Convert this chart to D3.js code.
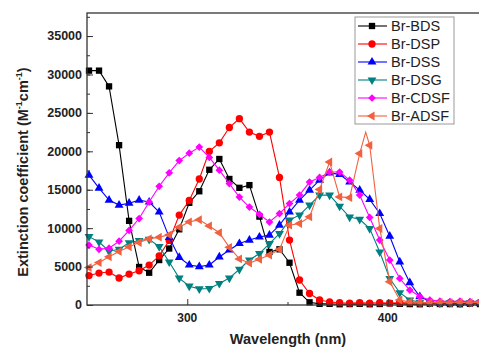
<!DOCTYPE html>
<html>
<head>
<meta charset="utf-8">
<script src="https://cdn.jsdelivr.net/npm/d3@7"></script>
<style>
  body { margin: 0; background: #fff; }
  svg { display: block; font-family: "Liberation Sans", Arial, sans-serif; }
</style>
</head>
<body>
<div id="chart"></div>
<script>
// wavelengths of the plotted points (nm)
const wavelengths = d3.range(40).map(i => 251 + i * 5);

const brBDS  = [30500, 30500, 28450, 20800, 10950, 4950, 4200, 5850, 7350, 9850,
                13300, 14800, 17600, 19000, 16400, 15250, 15600, 11500, 6900, 7250,
                5500, 1600, 350, 150, 150, 100, 120, 150, 100, 130,
                200, 150, 120, 100, 150, 130, 120, 100, 150, 120];
const brDSP  = [3830, 4160, 4290, 3510, 4030, 4460, 5200, 6400, 8400, 11700,
                13600, 16400, 20000, 21100, 23100, 24250, 22500, 21950, 22500, 16600,
                8450, 3250, 1500, 650, 400, 300, 250, 300, 250, 300,
                250, 300, 300, 250, 300, 250, 300, 300, 250, 300];
const brDSS  = [16900, 15200, 13650, 13000, 13250, 13650, 13400, 12100, 8800, 6200,
                5200, 5000, 5200, 6250, 7150, 8000, 8450, 8850, 9100, 10400,
                12100, 13650, 14950, 16250, 17200, 17000, 16000, 14950, 13750, 11900,
                8950, 5600, 2900, 1100, 450, 250, 200, 200, 250, 200];
const brDSG  = [8900, 8200, 7000, 7250, 8100, 8400, 8550, 7600, 5600, 3500,
                2450, 2100, 2150, 2800, 3500, 4650, 5850, 6700, 8000, 9300,
                11050, 11700, 13000, 14300, 14300, 12850, 11450, 11150, 9950, 6900,
                3450, 1600, 650, 350, 300, 250, 300, 250, 300, 250];
const brCDSF = [7800, 7250, 7400, 8300, 9700, 11250, 13400, 15450, 17200, 18800,
                19750, 20550, 19200, 17550, 15800, 14050, 12750, 11800, 10800, 11900,
                13200, 14300, 16000, 16600, 17300, 17300, 16250, 14300, 11400, 8450,
                5850, 3450, 1950, 1100, 650, 500, 450, 500, 450, 500];
const brADSF = [4870, 5520, 6270, 6970, 7570, 8140, 8610, 8830, 9130, 10130,
                10820, 11090, 10290, 9400, 7500, 6000, 5450, 5950, 6500, 7240,
                10390, 10610, 11470, 15030, 18610, 14070, 13970, 19710, 20780, 9960,
                3030, 650, 400, 350, 300, 350, 300, 350, 300, 350];
// sharp ADSF maximum that falls between two symbols (line only)
const adsfPeak = [[389, 22500]];

const seriesNames = ["Br-BDS", "Br-DSP", "Br-DSS", "Br-DSG", "Br-CDSF", "Br-ADSF"];
const xTicks = [300, 400];
const yTicks = [0, 5000, 10000, 15000, 20000, 25000, 30000, 35000];

const series = [
  { name: seriesNames[0], values: brBDS,  color: "#000000", shape: "square" },
  { name: seriesNames[1], values: brDSP,  color: "#ff0000", shape: "circle" },
  { name: seriesNames[2], values: brDSS,  color: "#0000ff", shape: "up" },
  { name: seriesNames[3], values: brDSG,  color: "#008080", shape: "down" },
  { name: seriesNames[4], values: brCDSF, color: "#ff00ff", shape: "diamond" },
  { name: seriesNames[5], values: brADSF, color: "#f2603f", shape: "left", extra: adsfPeak }
];

const W = 479, H = 348;
const svg = d3.select("#chart").append("svg")
  .attr("width", W).attr("height", H);

const x = d3.scaleLinear().domain([250, 450]).range([87, 488]);
const y = d3.scaleLinear().domain([0, 38000]).range([305, 13]);

const axisColor = "#333";

// symbols
function symbolPath(shape) {
  switch (shape) {
    case "square":  return { d: d3.symbol(d3.symbolSquare, 40)(), rot: 0 };
    case "circle":  return { d: d3.symbol(d3.symbolCircle, 42)(), rot: 0 };
    case "up":      return { d: d3.symbol(d3.symbolTriangle, 34)(), rot: 0 };
    case "down":    return { d: d3.symbol(d3.symbolTriangle, 34)(), rot: 180 };
    case "diamond": return { d: d3.symbol(d3.symbolSquare, 30)(), rot: 45 };
    case "left":    return { d: d3.symbol(d3.symbolTriangle, 34)(), rot: -90 };
  }
}

const plot = svg.append("g");

series.forEach(s => {
  const pts = wavelengths.map((w, i) => [w, s.values[i]]);
  const linePts = pts.concat(s.extra || []).sort((a, b) => a[0] - b[0]);
  const line = d3.line().x(d => x(d[0])).y(d => y(d[1]));
  plot.append("path")
    .attr("d", line(linePts))
    .attr("fill", "none")
    .attr("stroke", s.color)
    .attr("stroke-width", 1.1);
  const sym = symbolPath(s.shape);
  plot.append("g").selectAll("path")
    .data(pts)
    .join("path")
    .attr("d", sym.d)
    .attr("transform", d => `translate(${x(d[0])},${y(d[1])}) rotate(${sym.rot})`)
    .attr("fill", s.color);
});

// frame
svg.append("rect")
  .attr("x", x.range()[0]).attr("y", y.range()[1])
  .attr("width", x.range()[1] - x.range()[0])
  .attr("height", y.range()[0] - y.range()[1])
  .attr("fill", "none")
  .attr("stroke", axisColor)
  .attr("stroke-width", 1.3);

// y axis (ticks inward)
const yAxis = svg.append("g")
  .attr("transform", `translate(${x.range()[0]},0)`);
yAxis.call(d3.axisRight(y).tickValues(d3.range(0, 38000, 2500)).tickSize(3).tickFormat(""))
  .call(g => g.select(".domain").remove())
  .call(g => g.selectAll("line").attr("stroke", axisColor));
yAxis.append("g")
  .call(d3.axisRight(y).tickValues(yTicks).tickSize(6).tickFormat(""))
  .call(g => g.select(".domain").remove())
  .call(g => g.selectAll("line").attr("stroke", axisColor));
yAxis.selectAll(".ylab")
  .data(yTicks)
  .join("text")
  .attr("class", "ylab")
  .attr("x", -5)
  .attr("y", d => y(d))
  .attr("dy", "0.35em")
  .attr("text-anchor", "end")
  .attr("font-size", 12.5)
  .attr("font-weight", "bold")
  .attr("fill", "#222")
  .text(d => d);

// x axis (ticks inward)
const xAxis = svg.append("g")
  .attr("transform", `translate(0,${y.range()[0]})`);
xAxis.call(d3.axisTop(x).tickValues([350, 450]).tickSize(3).tickFormat(""))
  .call(g => g.select(".domain").remove())
  .call(g => g.selectAll("line").attr("stroke", axisColor));
xAxis.append("g")
  .call(d3.axisTop(x).tickValues(xTicks).tickSize(6).tickFormat(""))
  .call(g => g.select(".domain").remove())
  .call(g => g.selectAll("line").attr("stroke", axisColor));
xAxis.selectAll(".xlab")
  .data(xTicks)
  .join("text")
  .attr("class", "xlab")
  .attr("x", d => x(d))
  .attr("y", 17)
  .attr("text-anchor", "middle")
  .attr("font-size", 12)
  .attr("font-weight", "bold")
  .attr("fill", "#222")
  .text(d => d);

// axis titles
svg.append("text")
  .attr("x", 288).attr("y", 344)
  .attr("text-anchor", "middle")
  .attr("font-size", 14.5)
  .attr("font-weight", "bold")
  .attr("fill", "#222")
  .text("Wavelength (nm)");

const yt = svg.append("text")
  .attr("transform", "translate(28,172) rotate(-90)")
  .attr("text-anchor", "middle")
  .attr("font-size", 14.5)
  .attr("font-weight", "bold")
  .attr("fill", "#222");
yt.append("tspan").text("Extinction coefficient (M");
yt.append("tspan").attr("font-size", 9).attr("dy", -6).text("-1");
yt.append("tspan").attr("dy", 6).text("cm");
yt.append("tspan").attr("font-size", 9).attr("dy", -6).text("-1");
yt.append("tspan").attr("dy", 6).text(")");

// legend
const lg = svg.append("g").attr("transform", "translate(355,17)");
lg.append("rect")
  .attr("width", 99).attr("height", 107)
  .attr("fill", "#fff")
  .attr("stroke", "#999")
  .attr("stroke-width", 1);
series.forEach((s, i) => {
  const row = lg.append("g").attr("transform", `translate(0,${9 + i * 18})`);
  row.append("line")
    .attr("x1", 3).attr("x2", 32)
    .attr("stroke", s.color).attr("stroke-width", 1.1);
  const sym = symbolPath(s.shape);
  row.append("path")
    .attr("d", sym.d)
    .attr("transform", `translate(17,0) rotate(${sym.rot})`)
    .attr("fill", s.color);
  row.append("text")
    .attr("x", 36)
    .attr("dy", "0.36em")
    .attr("font-size", 14.5)
    .attr("fill", "#222")
    .text(s.name);
});
</script>
</body>
</html>
